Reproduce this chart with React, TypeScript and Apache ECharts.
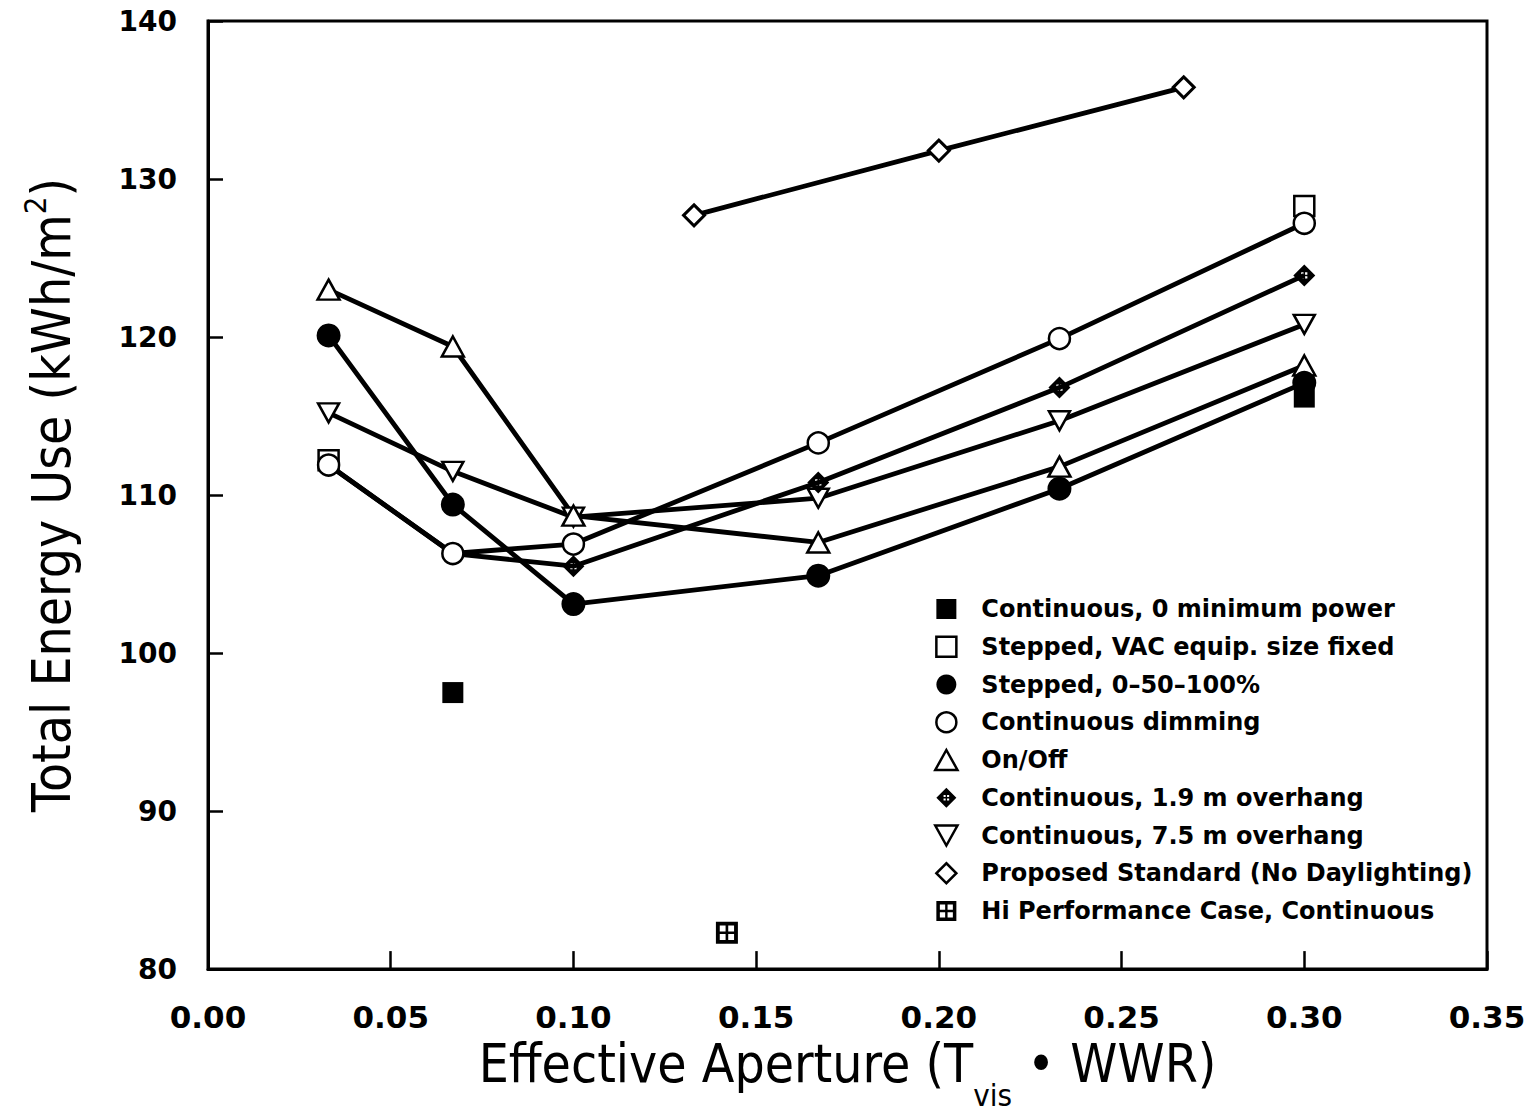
import React, { useEffect, useRef } from "react";
import * as echarts from "echarts";

// ---- data ----
const apertures = [0.033, 0.067, 0.1, 0.167, 0.233, 0.3];
const stepped050100 = [120.1, 109.4, 103.1, 104.9, 110.4, 117.1];
const continuousDimming = [111.9, 106.3, 106.9, 113.3, 119.9, 127.2];
const onOff = [123.0, 119.4, 108.7, 107.0, 111.8, 118.2];
const overhang19 = [111.9, 106.3, 105.5, 110.8, 116.8, 123.9];
const overhang75 = [115.2, 111.5, 108.6, 109.8, 114.7, 120.8];
const contZeroMinX = [0.067, 0.3];
const contZeroMinY = [97.5, 116.2];
const steppedVacX = [0.033, 0.3];
const steppedVacY = [112.2, 128.3];
const proposedX = [0.133, 0.2, 0.267];
const proposedY = [127.7, 131.8, 135.8];
const hiPerfX = [0.142];
const hiPerfY = [82.3];

const xTicks = { min: 0, max: 0.35, step: 0.05 };
const yTicks = { min: 80, max: 140, step: 10 };

const names = [
  "Continuous, 0 minimum power",
  "Stepped, VAC equip. size fixed",
  "Stepped, 0–50–100%",
  "Continuous dimming",
  "On/Off",
  "Continuous, 1.9 m overhang",
  "Continuous, 7.5 m overhang",
  "Proposed Standard (No Daylighting)",
  "Hi Performance Case, Continuous",
];

// ---- symbols ----
const SQ = "path://M0 0H20V20H0Z";
const TRI_UP = "path://M10 0L20 18H0Z";
const TRI_DN = "path://M0 0H20L10 18Z";
const DIAMOND = "path://M10 0L20 10L10 20L0 10Z";
const CROSS_DIAMOND =
  "path://M10 0L20 10L10 20L0 10Z" +
  "M7.2 7.2L7.2 9.3L9.3 9.3L9.3 7.2Z" +
  "M10.7 7.2L10.7 9.3L12.8 9.3L12.8 7.2Z" +
  "M7.2 10.7L7.2 12.8L9.3 12.8L9.3 10.7Z" +
  "M10.7 10.7L10.7 12.8L12.8 12.8L12.8 10.7Z";
const HI_PERF =
  "path://M0 0H20V20H0Z" +
  "M3.5 3.5L3.5 8.8L8.8 8.8L8.8 3.5Z" +
  "M11.2 3.5L11.2 8.8L16.5 8.8L16.5 3.5Z" +
  "M3.5 11.2L3.5 16.5L8.8 16.5L8.8 11.2Z" +
  "M11.2 11.2L11.2 16.5L16.5 16.5L16.5 11.2Z";

const FONT_NUM = '"DejaVu Sans", sans-serif';
const FONT_TITLE = '"Liberation Sans Narrow", "DejaVu Sans Condensed", "Liberation Sans", sans-serif';
const FONT_LEG = '"DejaVu Sans", sans-serif';

const pairs = (xs: number[], ys: number[]) => xs.map((x, i) => [x, ys[i]]);

const openStyle = { color: "#fff", borderColor: "#000", borderWidth: 2.5 };
const filledStyle = { color: "#000", borderColor: "#000", borderWidth: 0 };
const lineStyle = { color: "#000", width: 4.8 };

function lineSeries(name: string, ys: number[], symbol: string, size: number | number[], itemStyle: any) {
  return {
    name,
    type: "line",
    data: pairs(apertures, ys),
    symbol,
    symbolSize: size,
    showAllSymbol: true,
    lineStyle,
    itemStyle,
    emphasis: { disabled: true },
    silent: true,
  };
}

function scatterSeries(name: string, xs: number[], ys: number[], symbol: string, size: number | number[], itemStyle: any, lines = false) {
  return {
    name,
    type: "line",
    data: pairs(xs, ys),
    symbol,
    symbolSize: size,
    showAllSymbol: true,
    lineStyle: lines ? lineStyle : { width: 0, opacity: 0 },
    itemStyle,
    emphasis: { disabled: true },
    silent: true,
  };
}

export default function App() {
  const ref = useRef<HTMLDivElement>(null);
  useEffect(() => {
    if (!ref.current) return;
    const chart = echarts.init(ref.current, undefined, { renderer: "svg" });
    const legendIcons = [SQ, SQ, "circle", "circle", TRI_UP, CROSS_DIAMOND, TRI_DN, DIAMOND, HI_PERF];
    const legendStyles = [filledStyle, openStyle, filledStyle, openStyle, openStyle, filledStyle, openStyle, openStyle, filledStyle];
    chart.setOption({
      animation: false,
      backgroundColor: "#fff",
      grid: {
        left: 208,
        right: 42,
        top: 21,
        bottom: 145,
        show: true,
        borderColor: "#000",
        borderWidth: 3,
        backgroundColor: "transparent",
      },
      xAxis: {
        type: "value",
        min: xTicks.min,
        max: xTicks.max,
        interval: xTicks.step,
        splitLine: { show: false },
        axisLine: { show: true, lineStyle: { color: "#000", width: 3 } },
        axisTick: { show: true, inside: true, length: 18, lineStyle: { color: "#000", width: 2.5 } },
        axisLabel: {
          color: "#000",
          fontFamily: FONT_NUM,
          fontWeight: "bold",
          fontSize: 31,
          margin: 32,
          formatter: (v: number) => v.toFixed(2),
        },
        name: "{m|Effective Aperture (T}{s|vis}{m| • WWR)}",
        nameLocation: "middle",
        nameGap: 66,
        nameTextStyle: {
          rich: {
            m: { fontFamily: FONT_TITLE, fontSize: 53, color: "#000", lineHeight: 58, verticalAlign: "top" },
            s: { fontFamily: FONT_TITLE, fontSize: 31, color: "#000", lineHeight: 31, padding: [42, 0, 0, 0], verticalAlign: "top" },
          },
        },
      },
      yAxis: {
        type: "value",
        min: yTicks.min,
        max: yTicks.max,
        interval: yTicks.step,
        splitLine: { show: false },
        axisLine: { show: true, lineStyle: { color: "#000", width: 3 } },
        axisTick: { show: true, inside: true, length: 15, lineStyle: { color: "#000", width: 2.5 } },
        axisLabel: {
          color: "#000",
          fontFamily: FONT_NUM,
          fontWeight: "bold",
          fontSize: 28,
          margin: 31,
        },
        name: "{m|Total Energy Use (kWh/m}{p|2}{m|)}",
        nameLocation: "middle",
        nameGap: 130,
        nameTextStyle: {
          rich: {
            m: { fontFamily: FONT_TITLE, fontSize: 53, color: "#000", lineHeight: 58, verticalAlign: "bottom" },
            p: { fontFamily: FONT_TITLE, fontSize: 31, color: "#000", lineHeight: 31, padding: [0, 0, 28, 0], verticalAlign: "bottom" },
          },
        },
      },
      legend: {
        orient: "vertical",
        left: 934,
        top: 597,
        padding: 0,
        itemWidth: 32,
        itemHeight: 20,
        itemGap: 13.75,
        selectedMode: false,
        textStyle: {
          color: "#000",
          fontFamily: FONT_LEG,
          fontWeight: "bold",
          fontSize: 24,
          lineHeight: 24,
          padding: [0, 0, 0, 14],
        },
        data: names.map((n, i) => ({ name: n, icon: legendIcons[i], itemStyle: legendStyles[i] })),
      },
      series: [
        scatterSeries(names[7], proposedX, proposedY, DIAMOND, [21, 21], { ...openStyle, borderWidth: 3 }, true),
        lineSeries(names[6], overhang75, TRI_DN, [21, 19], openStyle),
        lineSeries(names[5], overhang19, CROSS_DIAMOND, [22, 22], filledStyle),
        lineSeries(names[4], onOff, TRI_UP, [22, 20], openStyle),
        scatterSeries(names[1], steppedVacX, steppedVacY, SQ, [20, 20], openStyle),
        lineSeries(names[3], continuousDimming, "circle", 21, openStyle),
        scatterSeries(names[0], contZeroMinX, contZeroMinY, SQ, [21, 21], filledStyle),
        lineSeries(names[2], stepped050100, "circle", 24, filledStyle),
        scatterSeries(names[8], hiPerfX, hiPerfY, HI_PERF, [22, 22], filledStyle),
      ],
    });
    return () => chart.dispose();
  }, []);
  return (
    <div
      ref={ref}
      style={{ position: "fixed", left: 0, top: 0, width: 1529, height: 1115, overflow: "hidden", background: "#fff" }}
    />
  );
}
